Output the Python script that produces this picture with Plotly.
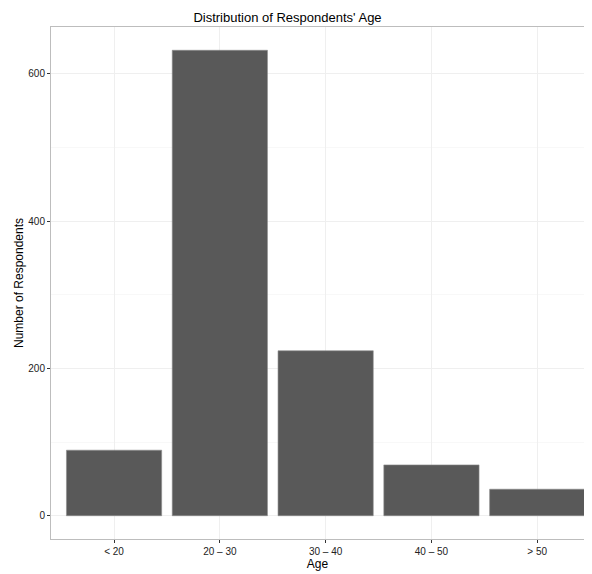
import plotly.graph_objects as go

age_groups = ["< 20", "20 – 30", "30 – 40", "40 – 50", "> 50"]
respondents = [89, 632, 224, 69, 36]
y_tick_vals = [0, 200, 400, 600]
y_tick_text = ["0", "200", "400", "600"]

fig = go.Figure()
fig.add_trace(go.Bar(
    x=age_groups,
    y=respondents,
    width=0.9,
    marker=dict(color="#595959", line=dict(color="#8c8c8c", width=0.6)),
    hoverinfo="x+y",
))

FONT = "Liberation Sans, Arial, Helvetica, sans-serif"

# page body has an 8px margin, so the figure is drawn at (8, 8) in the window
W, H = 576, 566

fig.update_layout(
    width=W,
    height=H,
    margin=dict(l=43, r=0, t=19, b=34.5, autoexpand=False),
    paper_bgcolor="white",
    plot_bgcolor="white",
    showlegend=False,
    font=dict(family=FONT, color="#222222", size=10),
    title=dict(
        text="Distribution of Respondents' Age",
        x=279.5 / W,
        xref="container",
        xanchor="center",
        y=1 - 9 / H,
        yref="container",
        yanchor="middle",
        font=dict(family=FONT, size=13, color="black"),
    ),
    bargap=0.1,
)

fig.update_xaxes(
    type="category",
    range=[-0.596, 4.442],
    automargin=False,
    showgrid=True,
    gridcolor="#EFEFEF",
    gridwidth=1,
    showline=True,
    mirror=True,
    linecolor="#BDBDBD",
    linewidth=1,
    ticks="outside",
    ticklen=3,
    tickwidth=1,
    tickcolor="#333333",
    tickfont=dict(size=10, color="#222222"),
    zeroline=False,
    title=dict(text="Age", font=dict(size=12, color="black"), standoff=1),
)

fig.update_yaxes(
    range=[-31.6, 663.6],
    automargin=False,
    tickmode="array",
    tickvals=y_tick_vals,
    ticktext=y_tick_text,
    showgrid=True,
    gridcolor="#EFEFEF",
    gridwidth=1,
    minor=dict(showgrid=True, gridcolor="#F8F8F8", dtick=100, tick0=0),
    showline=True,
    mirror=False,
    linecolor="#BDBDBD",
    linewidth=1,
    ticks="outside",
    ticklen=3,
    tickwidth=1,
    tickcolor="#333333",
    tickfont=dict(size=10, color="#222222"),
    zeroline=False,
    title=dict(text="Number of Respondents", font=dict(size=12, color="black"), standoff=2),
)

fig.write_html("out.html")
